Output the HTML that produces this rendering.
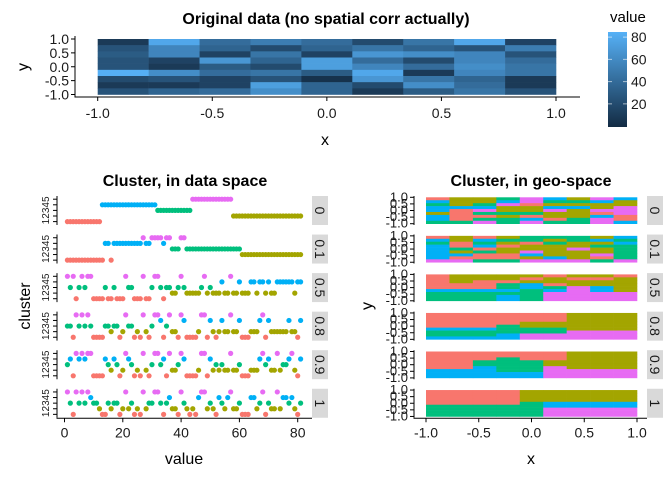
<!DOCTYPE html>
<html><head><meta charset="utf-8"><style>
html,body{margin:0;padding:0;background:#fff}
svg{display:block;font-family:"Liberation Sans",sans-serif}
</style></head><body>
<svg id="chart" width="672" height="480" viewBox="0 0 672 480">
<rect width="672" height="480" fill="#fff"/>
<defs><linearGradient id="cbar" x1="0" y1="1" x2="0" y2="0"><stop offset="0" stop-color="#132B43"/><stop offset="1" stop-color="#56B1F7"/></linearGradient></defs>
<text x="326" y="24" text-anchor="middle" font-size="16" font-weight="bold" fill="#000">Original data (no spatial corr actually)</text>
<text x="185" y="186" text-anchor="middle" font-size="16" font-weight="bold" fill="#000">Cluster, in data space</text>
<text x="531" y="186" text-anchor="middle" font-size="16" font-weight="bold" fill="#000">Cluster, in geo-space</text>
<g id="top"></g>
<g id="legend">
<text x="610" y="22" font-size="15" fill="#000">value</text>
<rect x="608" y="32" width="19" height="95" fill="url(#cbar)"/>
</g>
<g id="left"></g>
<g id="right"></g>
<text x="325" y="145" text-anchor="middle" font-size="16" fill="#000">x</text>
<text x="0" y="0" transform="translate(28,67) rotate(-90)" text-anchor="middle" font-size="16" fill="#000">y</text>
<text x="184" y="464" text-anchor="middle" font-size="16" fill="#000">value</text>
<text x="0" y="0" transform="translate(30,306) rotate(-90)" text-anchor="middle" font-size="16" fill="#000">cluster</text>
<text x="531" y="464" text-anchor="middle" font-size="16" fill="#000">x</text>
<text x="0" y="0" transform="translate(372,306) rotate(-90)" text-anchor="middle" font-size="16" fill="#000">y</text>
</svg>
<script>
const heatVals = [
[10,75,40,50,40,20,45,75,15],
[25,55,35,20,35,45,35,25,50],
[30,55,15,45,15,65,60,55,25],
[25,15,65,35,70,40,20,55,40],
[25,10,30,20,70,55,40,60,45],
[80,60,40,45,30,75,10,55,45],
[20,25,15,25,5,65,45,35,10],
[10,10,15,70,35,20,60,40,10],
[25,35,40,60,35,10,30,45,25]];
const axisTicks = [-1,-0.5,0,0.5,1];
const axisTickLabels = ["-1.0","-0.5","0.0","0.5","1.0"];
const legendTicks = [20,40,60,80];
const valueTicks = [0,20,40,60,80];
const facets = ["0","0.1","0.5","0.8","0.9","1"];
const clusterColors = ["#F8766D","#A3A500","#00BF7D","#00B0F6","#E76BF3"];
const cl0 = [1,1,1,1,1,1,1,1,1,1,1,1,4,4,4,4,4,4,4,4,4,4,4,4,4,4,4,4,4,4,4,3,3,3,3,3,3,3,3,3,3,3,3,5,5,5,5,5,5,5,5,5,5,5,5,5,5,2,2,2,2,2,2,2,2,2,2,2,2,2,2,2,2,2,2,2,2,2,2,2,2];
const cl01 = [1,1,1,1,1,1,1,1,1,1,1,1,1,4,4,1,4,4,4,4,4,4,4,4,4,4,5,4,4,5,5,5,5,4,5,5,3,3,3,5,5,3,3,3,3,3,3,3,3,3,3,3,3,3,3,3,3,3,3,3,2,2,2,2,2,2,2,2,2,2,2,2,2,2,2,2,2,2,2,2,2];
const cl05 = [5,3,5,1,3,5,3,5,5,1,1,1,1,3,1,1,3,1,1,1,5,3,3,1,1,1,5,1,1,3,5,5,3,1,3,3,2,2,3,5,3,2,2,2,2,2,3,5,2,3,2,2,2,4,2,2,5,2,2,4,2,2,2,4,4,2,4,4,2,4,2,2,4,4,4,4,4,4,2,4,4];
const cl08 = [3,3,1,5,3,5,3,5,3,1,1,1,1,3,3,2,3,3,1,2,5,3,3,1,2,1,5,2,1,3,5,5,4,1,3,5,2,2,1,5,4,1,1,1,1,2,5,5,1,4,2,1,2,4,2,2,5,2,2,4,1,1,1,2,2,2,4,5,1,4,2,2,2,2,2,2,4,2,2,1,4];
const cl09 = [3,4,1,5,4,5,4,5,5,1,1,1,1,4,3,2,4,3,1,2,5,4,3,1,2,1,5,2,1,3,5,5,3,4,1,5,2,2,3,5,4,1,1,1,1,2,5,5,1,4,2,3,2,3,2,2,5,2,2,3,1,1,1,2,2,2,4,5,3,4,2,2,5,2,3,3,4,5,2,1,4];
const cl1 = [5,3,1,5,3,5,3,5,4,3,3,2,1,1,3,2,3,3,1,2,5,2,3,1,2,1,5,2,3,3,5,5,3,1,3,4,2,2,1,5,3,2,1,2,1,4,5,5,2,3,2,1,4,3,2,4,5,2,2,3,1,1,1,4,4,2,3,5,1,3,2,2,5,2,4,4,3,4,2,1,3];
const geo0 = ["122354254","422453342","323512222","444224425","415225255","213332215","411212241","413341351","335353354"];
const geo01 = ["121233324","424332343","313213224","414122233","431222523","423252223","441142253","411124213","553355535"];
const geo05 = ["122221221","122212112","121122222","111341222","111343542","444434542","333335555","333435555","333435555"];
const geo08 = ["111111222","111111222","111111222","111122222","111322222","444333222","333333555","333455555","444455555"];
const geo09 = ["111111222","111111222","111311222","113332222","113332222","114335222","444335555","444445555","444445555"];
const geo1 = ["111122222","111122222","111122222","111122222","111134444","333334444","333335555","333335555","333335555"];
const clusterSets = [cl0, cl01, cl05, cl08, cl09, cl1];
const geoSets = [geo0, geo01, geo05, geo08, geo09, geo1];

const NS = "http://www.w3.org/2000/svg";
function mk(parent, tag, attrs, text){const e=document.createElementNS(NS,tag);for(const k in attrs)e.setAttribute(k,attrs[k]);if(text!==undefined)e.textContent=text;parent.appendChild(e);return e;}
function lerp(a,b,t){return Math.round(a+(b-a)*t);}
function heatColor(v){const t=Math.max(0,Math.min(1,(v-1)/80));return "rgb("+lerp(0x13,0x56,t)+","+lerp(0x2B,0xB1,t)+","+lerp(0x43,0xF7,t)+")";}

const topG=document.getElementById("top");
const hx0=97.7,hx1=556,hy0=39,hy1=94.5;
const hxs=v=>hx0+(v+1)/2*(hx1-hx0), hys=v=>hy1-(v+1)/2*(hy1-hy0);
const cw=(hx1-hx0)/9, ch=(hy1-hy0)/9;
heatVals.forEach((row,r)=>row.forEach((v,c)=>{
  const e=mk(topG,"rect",{x:hx0+c*cw,y:hy0+r*ch,width:cw+0.3,height:ch+0.3,fill:heatColor(v)});
  
  
}));
let e=mk(topG,"line",{x1:75,y1:36,x2:75,y2:97.5,stroke:"#000","stroke-width":1});

e=mk(topG,"line",{x1:74.5,y1:97,x2:580,y2:97,stroke:"#000","stroke-width":1});

axisTicks.forEach((t,i)=>{
  mk(topG,"line",{x1:hxs(t),y1:97,x2:hxs(t),y2:101,stroke:"#000"});
  e=mk(topG,"text",{x:hxs(t),y:118,"text-anchor":"middle","font-size":14,fill:"#1a1a1a"},axisTickLabels[i]);
  
  mk(topG,"line",{x1:71,y1:hys(t),x2:75,y2:hys(t),stroke:"#000"});
  e=mk(topG,"text",{x:69,y:hys(t)+5,"text-anchor":"end","font-size":14,fill:"#1a1a1a"},axisTickLabels[i]);
  
});
const lg=document.getElementById("legend");
const lys=v=>125-(v-1)*(125-36)/80;
legendTicks.forEach(t=>{
  mk(lg,"line",{x1:608,y1:lys(t),x2:612,y2:lys(t),stroke:"#fff","stroke-opacity":0.6});
  mk(lg,"line",{x1:623,y1:lys(t),x2:627,y2:lys(t),stroke:"#fff","stroke-opacity":0.6});
  e=mk(lg,"text",{x:631,y:lys(t)+5,"font-size":14,fill:"#1a1a1a"},String(t));
  
});

const L=document.getElementById("left"), R=document.getElementById("right");
const panelTop=i=>196+i*38.55, PH=29;
const vxs=v=>64.5+v*2.915;
const gx0=426,gx1=637;
const gxs=v=>gx0+(v+1)/2*(gx1-gx0);
facets.forEach((f,i)=>{
  const top=panelTop(i);
  const cy=k=>top+25.6-(k-1)*5.6;
  mk(L,"line",{x1:57,y1:top,x2:57,y2:top+PH,stroke:"#000"});
  for(let k=1;k<=5;k++){
    mk(L,"line",{x1:53,y1:cy(k),x2:57,y2:cy(k),stroke:"#000"});
    e=mk(L,"text",{x:0,y:0,transform:"translate(49,"+cy(k)+") rotate(-90)","text-anchor":"middle","font-size":10,fill:"#1a1a1a"},String(k));
    
  }
  clusterSets[i].forEach((k,j)=>{
    const p=mk(L,"circle",{cx:vxs(j+1),cy:cy(k),r:2.6,fill:clusterColors[k-1]});
    
    
  });
  e=mk(L,"rect",{x:312,y:top,width:16,height:PH,fill:"#d9d9d9"});
  
  e=mk(L,"text",{x:0,y:0,transform:"translate(315,"+(top+PH/2)+") rotate(90)","text-anchor":"middle","font-size":14,fill:"#1a1a1a"},f);
  
  const gy0=top+1.3,gy1=top+27.7;
  const gys=v=>gy1-(v+1)/2*(gy1-gy0);
  const gcw=(gx1-gx0)/9,gch=(gy1-gy0)/9;
  geoSets[i].forEach((row,r)=>{for(let c=0;c<9;c++){
    const k=+row[c];
    const t=mk(R,"rect",{x:gx0+c*gcw,y:gy0+r*gch,width:gcw+0.3,height:gch+0.3,fill:clusterColors[k-1]});
    
    
  }});
  mk(R,"line",{x1:414,y1:top,x2:414,y2:top+PH,stroke:"#000"});
  axisTicks.forEach((t,j)=>{
    mk(R,"line",{x1:410,y1:gys(t),x2:414,y2:gys(t),stroke:"#000"});
    e=mk(R,"text",{x:408,y:gys(t)+4,"text-anchor":"end","font-size":13,fill:"#1a1a1a"},axisTickLabels[j]);
    
  });
  e=mk(R,"rect",{x:647,y:top,width:16,height:PH,fill:"#d9d9d9"});
  
  e=mk(R,"text",{x:0,y:0,transform:"translate(650,"+(top+PH/2)+") rotate(90)","text-anchor":"middle","font-size":14,fill:"#1a1a1a"},f);
  
});
const by=panelTop(5)+PH+0.5;
e=mk(L,"line",{x1:56.5,y1:by,x2:312,y2:by,stroke:"#000"});

valueTicks.forEach(t=>{
  mk(L,"line",{x1:vxs(t),y1:by,x2:vxs(t),y2:by+4,stroke:"#000"});
  e=mk(L,"text",{x:vxs(t),y:by+19,"text-anchor":"middle","font-size":14,fill:"#1a1a1a"},String(t));
  
});
e=mk(R,"line",{x1:413.5,y1:by,x2:647,y2:by,stroke:"#000"});

axisTicks.forEach((t,j)=>{
  mk(R,"line",{x1:gxs(t),y1:by,x2:gxs(t),y2:by+4,stroke:"#000"});
  e=mk(R,"text",{x:gxs(t),y:by+19,"text-anchor":"middle","font-size":14,fill:"#1a1a1a"},axisTickLabels[j]);
  
});
</script>
</body></html>
